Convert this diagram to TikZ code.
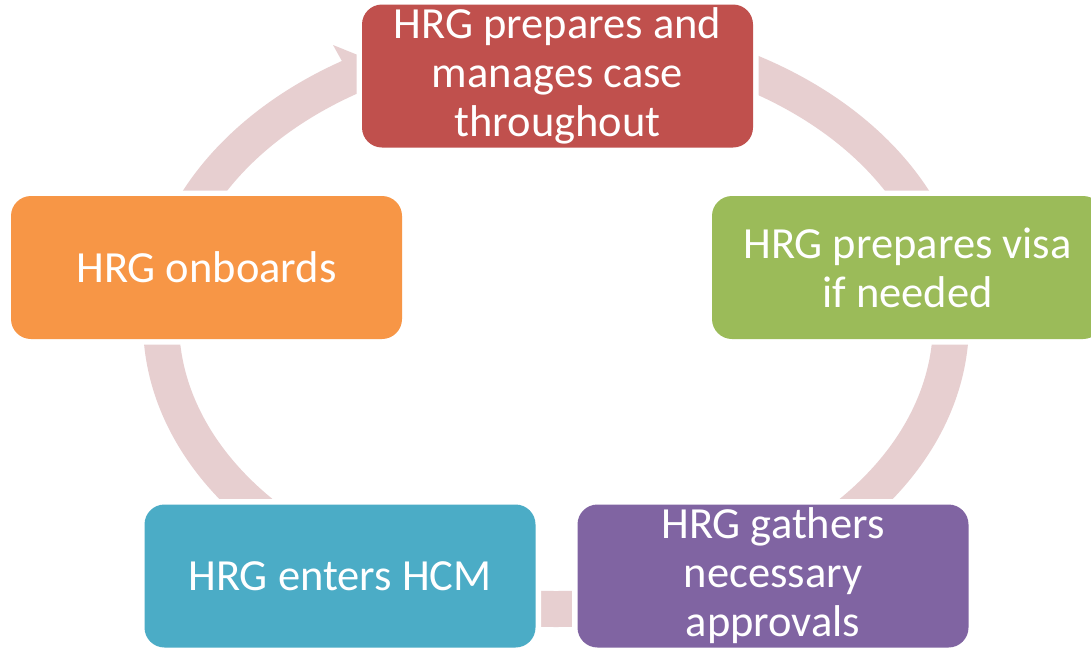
\documentclass[tikz,border=0pt]{standalone}
\usepackage{fontspec}
\setmainfont{Carlito}
\definecolor{bandc}{RGB}{231,207,208}
\definecolor{cred}{RGB}{192,80,77}
\definecolor{corange}{RGB}{247,150,70}
\definecolor{cgreen}{RGB}{155,187,89}
\definecolor{cpurple}{RGB}{128,100,162}
\definecolor{cteal}{RGB}{75,172,198}
\tikzset{
  stepbox/.style={rounded corners=20pt, minimum width=391pt, minimum height=143pt,
    inner sep=0pt, align=center, text=white,
    font=\fontsize{44.5}{49}\selectfont,
    preaction={draw=white, line width=11pt}},
}
\begin{document}
\begin{tikzpicture}[x=1pt,y=-1pt]
\useasboundingbox (0,0) rectangle (1091,648);
\clip (0,0) rectangle (1091,648);
\fill[white] (0,0) rectangle (1091,648);
% ring
\draw[bandc, line width=36pt] (556,322) ellipse [x radius=395pt, y radius=287pt];
% outer barb of arrowhead
\fill[bandc] (343,63) -- (333,45) -- (375,62) -- (360,80) -- cycle;
% boxes
\node[stepbox, fill=cred] (top) at (557.5,76) {HRG prepares and\\manages case\\throughout};
\node[stepbox, fill=cgreen] (right) at (907.5,267.5) {HRG prepares visa\\if needed};
\node[stepbox, fill=cpurple] (bright) at (773,576) {HRG gathers\\necessary\\approvals};
\node[stepbox, fill=cteal] (bleft) at (340,576) {HRG enters HCM};
\node[stepbox, fill=corange] (left) at (206.5,267.5) {HRG onboards};
\end{tikzpicture}
\end{document}
